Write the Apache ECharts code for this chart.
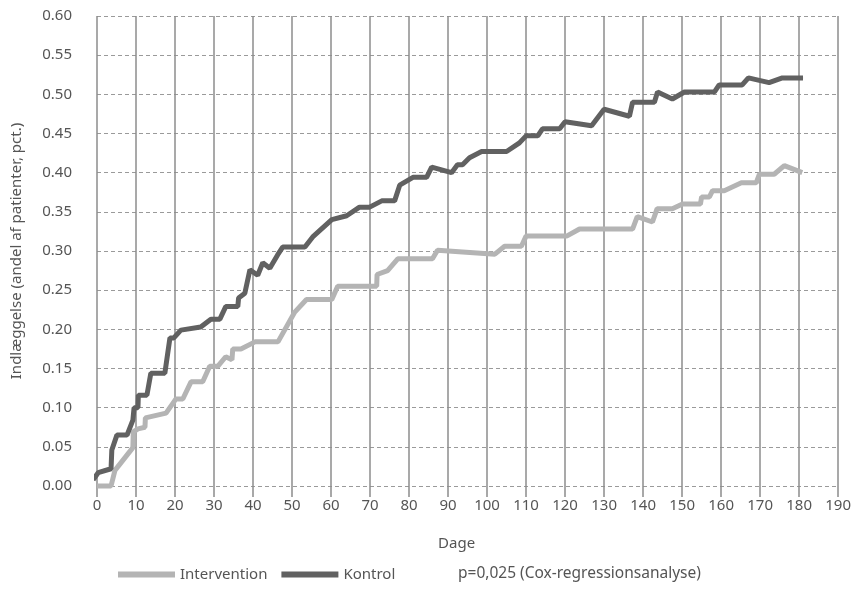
<!DOCTYPE html>
<html>
<head>
<meta charset="utf-8">
<script src="https://cdn.jsdelivr.net/npm/echarts@6/dist/echarts.min.js"></script>
<style>
  html, body { margin: 0; padding: 0; background: #fff; }
  #chart { width: 854px; height: 595px; }
</style>
</head>
<body>
<div id="chart"></div>
<script>
// dage / andel
const kontrolDage = [-1, 0.3, 3.6, 3.8, 5.1, 7.7, 9.2, 9.5, 10.5, 10.6, 12.8, 13.8, 17.4, 18.7, 19.7, 21.5, 26.6, 29.2, 31.5, 33, 36.1, 36.3, 37.9, 39.2, 41.2, 42.5, 44.3, 46.3, 47.6, 53.3, 55.3, 60.2, 64, 67.3, 69.9, 73, 76.3, 77.6, 81, 84.5, 85.8, 90.9, 92.4, 93.7, 95.5, 98.6, 105, 108.3, 110, 113, 114.2, 118.6, 120, 126.8, 130, 136.5, 137.3, 142.9, 143.7, 147.5, 150.6, 158.3, 159.5, 165.4, 167, 172.3, 175.7, 181];
const kontrolVal = [0.008, 0.017, 0.022, 0.046, 0.065, 0.065, 0.084, 0.100, 0.100, 0.116, 0.116, 0.144, 0.144, 0.189, 0.189, 0.199, 0.203, 0.213, 0.213, 0.229, 0.229, 0.240, 0.246, 0.276, 0.269, 0.285, 0.278, 0.295, 0.305, 0.305, 0.318, 0.340, 0.345, 0.356, 0.356, 0.364, 0.364, 0.384, 0.394, 0.394, 0.407, 0.400, 0.410, 0.410, 0.419, 0.427, 0.427, 0.438, 0.447, 0.447, 0.456, 0.456, 0.465, 0.460, 0.481, 0.472, 0.490, 0.490, 0.503, 0.494, 0.503, 0.503, 0.512, 0.512, 0.521, 0.515, 0.521, 0.521];

const interventionDage = [0, 3.6, 4.6, 9.2, 9.3, 10.5, 12.3, 12.4, 17.7, 20.2, 22, 24.1, 27.1, 28.9, 31, 33, 34.6, 34.8, 36.9, 40.5, 46.4, 50.7, 53.7, 60.2, 61.7, 71.7, 71.8, 74.5, 77.1, 86, 87.3, 102, 104.5, 108.8, 110, 120.4, 123.7, 137.3, 138.5, 142.4, 143.6, 147.5, 150.1, 154.7, 155, 157, 157.8, 160.8, 165.2, 169, 169.8, 173.6, 176.2, 180.8];
const interventionVal = [0.000, 0.000, 0.020, 0.049, 0.069, 0.073, 0.075, 0.087, 0.093, 0.111, 0.111, 0.133, 0.133, 0.153, 0.153, 0.165, 0.161, 0.175, 0.175, 0.184, 0.184, 0.222, 0.238, 0.238, 0.255, 0.255, 0.270, 0.275, 0.290, 0.290, 0.301, 0.296, 0.306, 0.306, 0.319, 0.319, 0.328, 0.328, 0.344, 0.337, 0.354, 0.354, 0.360, 0.360, 0.369, 0.369, 0.377, 0.377, 0.387, 0.387, 0.398, 0.398, 0.409, 0.400];

const pair = (xs, ys) => xs.map((x, i) => [x, ys[i]]);

const font = 'Noto Sans';
const txt = '#555555';

const chart = echarts.init(document.getElementById('chart'));
const option = {
  backgroundColor: '#ffffff',
  animation: false,
  textStyle: { fontFamily: font, color: txt },
  grid: { left: 97, right: 15, top: 16, bottom: 109 },
  legend: {
    bottom: 8,
    left: 113,
    icon: 'rect',
    itemWidth: 57,
    itemHeight: 6,
    itemGap: 14,
    textStyle: { fontFamily: font, fontSize: 15, color: txt },
    data: ['Intervention', 'Kontrol']
  },
  graphic: [{
    type: 'text',
    left: 458,
    top: 566,
    style: { text: 'p=0,025 (Cox-regressionsanalyse)', font: '15.5px "Noto Sans"', fill: txt }
  }],
  xAxis: {
    type: 'value',
    min: 0,
    max: 190,
    interval: 10,
    name: 'Dage',
    nameLocation: 'middle',
    nameGap: 50,
    nameTextStyle: { fontSize: 15, color: txt, padding: [0, 22, 0, 0] },
    axisLine: { show: false },
    axisTick: { show: true, length: 11, lineStyle: { color: '#8c8c8c', width: 1.5 } },
    axisLabel: { fontSize: 15, color: txt, margin: 12 },
    splitLine: { show: true, lineStyle: { color: '#8c8c8c', width: 1.5 } }
  },
  yAxis: {
    type: 'value',
    min: 0,
    max: 0.6,
    interval: 0.05,
    name: 'Indlæggelse (andel af patienter, pct.)',
    nameLocation: 'middle',
    nameGap: 73,
    nameTextStyle: { fontSize: 15, color: txt },
    axisLine: { show: false },
    axisTick: { show: false },
    axisLabel: { fontSize: 15, color: txt, margin: 25, formatter: v => v.toFixed(2) },
    splitLine: { show: true, lineStyle: { color: '#9a9a9a', type: [4, 3], width: 1 } }
  },
  series: [
    {
      name: 'Intervention',
      type: 'line',
      data: pair(interventionDage, interventionVal),
      showSymbol: false,
      clip: false,
      color: '#b4b4b4',
      lineStyle: { width: 5, color: '#b4b4b4' }
    },
    {
      name: 'Kontrol',
      type: 'line',
      data: pair(kontrolDage, kontrolVal),
      showSymbol: false,
      clip: false,
      color: '#616161',
      lineStyle: { width: 5, color: '#616161' }
    }
  ]
};
chart.setOption(option);
</script>
</body>
</html>
